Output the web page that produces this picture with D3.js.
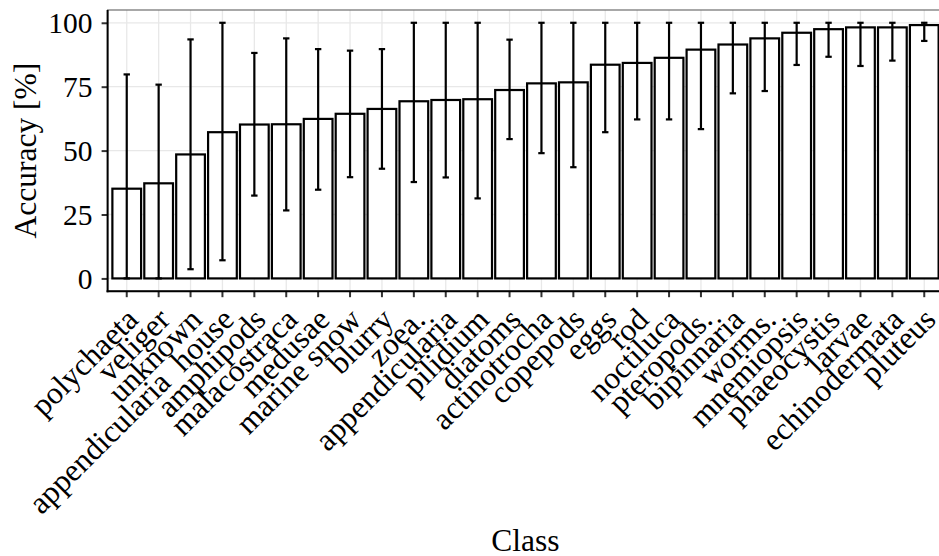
<!DOCTYPE html>
<html>
<head>
<meta charset="utf-8">
<script src="https://cdn.jsdelivr.net/npm/d3@7"></script>
<style>
  html, body { margin: 0; padding: 0; background: #fff; }
  svg { display: block; }
  text { font-family: "Liberation Serif", "Times New Roman", serif; fill: #000; white-space: pre; }
</style>
</head>
<body>
<svg id="chart" width="939" height="556"></svg>
<script>
// Per-class accuracy (mean) with lower / upper bounds of the error bar, in percent
const classes = [
  "polychaeta", "veliger", "unknown", "appendicularia_house", "amphipods",
  "malacostraca", "medusae", "marine snow", "blurry", "zoea.",
  "appendicularia", "pilidium", "diatoms", "actinotrocha", "copepods",
  "eggs", "rod", "noctiluca", "pteropods.", "bipinnaria",
  "worms.", "mnemiopsis", "phaeocystis", "larvae", "echinodermata", "pluteus"
];
const classLabels = [
  "polychaeta", "veliger", "unknown", "appendicularia  house", "amphipods",
  "malacostraca", "medusae", "marine snow", "blurry", "zoea.",
  "appendicularia", "pilidium", "diatoms", "actinotrocha", "copepods",
  "eggs", "rod", "noctiluca", "pteropods.", "bipinnaria",
  "worms.", "mnemiopsis", "phaeocystis", "larvae", "echinodermata", "pluteus"
];
const accuracy = [
  35.1, 37.2, 48.5, 57.2, 60.2, 60.3, 62.4, 64.4, 66.3, 69.3,
  69.8, 70.1, 73.7, 76.3, 76.7, 83.6, 84.3, 86.3, 89.5, 91.5,
  93.9, 96.1, 97.5, 98.2, 98.2, 99.1
];
const lower = [
  0, 0, 3.6, 7.1, 32.4, 26.6, 34.7, 39.6, 42.9, 37.7,
  39.5, 31.3, 54.5, 49.0, 43.5, 57.2, 62.2, 62.2, 58.4, 72.4,
  73.3, 83.5, 86.7, 83.1, 85.2, 92.9
];
const upper = [
  79.8, 75.8, 93.5, 100, 88.2, 93.9, 89.7, 89.1, 89.7, 100,
  100, 100, 93.4, 100, 100, 100, 100, 100, 100, 100,
  100, 100, 100, 100, 100, 100
];
const yTicks = [0, 25, 50, 75, 100];

const data = classes.map((c, i) => ({
  key: c, label: classLabels[i], value: accuracy[i], lo: lower[i], hi: upper[i]
}));

const svg = d3.select("#chart");

// Panel extent (the right edge runs slightly past the canvas)
const panel = { left: 107.6, right: 943.4, top: 10, bottom: 291.2 };

const x = d3.scaleBand()
  .domain(classes)
  .range([panel.left, panel.right])
  .paddingInner(0.1)
  .paddingOuter(0.15);

const y = d3.scaleLinear()
  .domain([-5, 105])
  .range([panel.bottom, panel.top]);

const cx = k => x(k) + x.bandwidth() / 2;

// Panel background
svg.append("rect")
  .attr("x", panel.left).attr("y", panel.top)
  .attr("width", panel.right - panel.left)
  .attr("height", panel.bottom - panel.top)
  .attr("fill", "#fff");

// Grid lines
const grid = svg.append("g").attr("stroke", "#e8e8e8").attr("stroke-width", 1.3);
grid.selectAll("line.h").data(yTicks).join("line")
  .attr("class", "h")
  .attr("x1", panel.left).attr("x2", panel.right)
  .attr("y1", d => y(d)).attr("y2", d => y(d));
grid.selectAll("line.v").data(classes).join("line")
  .attr("class", "v")
  .attr("x1", d => cx(d)).attr("x2", d => cx(d))
  .attr("y1", panel.top).attr("y2", panel.bottom);

// Bars
svg.append("g").selectAll("rect").data(data).join("rect")
  .attr("x", d => x(d.key))
  .attr("width", x.bandwidth())
  .attr("y", d => y(d.value))
  .attr("height", d => y(0) - y(d.value))
  .attr("fill", "#fff")
  .attr("stroke", "#000")
  .attr("stroke-width", 2.2);

// Error bars
const capHalf = x.step() * 0.1;
const eb = svg.append("g").attr("stroke", "#000").attr("stroke-width", 2.2);
eb.selectAll("line.stem").data(data).join("line")
  .attr("class", "stem")
  .attr("x1", d => cx(d.key)).attr("x2", d => cx(d.key))
  .attr("y1", d => y(d.lo)).attr("y2", d => y(d.hi));
eb.selectAll("line.top").data(data).join("line")
  .attr("class", "top")
  .attr("x1", d => cx(d.key) - capHalf).attr("x2", d => cx(d.key) + capHalf)
  .attr("y1", d => y(d.hi)).attr("y2", d => y(d.hi));
eb.selectAll("line.bot").data(data).join("line")
  .attr("class", "bot")
  .attr("x1", d => cx(d.key) - capHalf).attr("x2", d => cx(d.key) + capHalf)
  .attr("y1", d => y(d.lo)).attr("y2", d => y(d.lo));

// Panel border
svg.append("rect")
  .attr("x", panel.left).attr("y", panel.top)
  .attr("width", panel.right - panel.left)
  .attr("height", panel.bottom - panel.top)
  .attr("fill", "none")
  .attr("stroke", "#6e6e6e")
  .attr("stroke-width", 1.2);

// Y axis
const yAxis = svg.append("g")
  .attr("transform", `translate(${panel.left},0)`)
  .call(d3.axisLeft(y).tickValues(yTicks).tickSize(6).tickPadding(9).tickFormat(d3.format("d")));
yAxis.select(".domain").remove();
yAxis.selectAll(".tick line").attr("stroke", "#333").attr("stroke-width", 2);
yAxis.selectAll(".tick text")
  .style("font-size", "29.5px")
  .attr("dy", "0.34em");
svg.append("line")
  .attr("x1", panel.left).attr("x2", panel.left)
  .attr("y1", panel.top).attr("y2", panel.bottom + 1)
  .attr("stroke", "#000").attr("stroke-width", 2);

// X axis
const xAxis = svg.append("g")
  .attr("transform", `translate(0,${panel.bottom})`)
  .call(d3.axisBottom(x).tickSize(6).tickFormat((d, i) => classLabels[i]));
xAxis.select(".domain").remove();
xAxis.selectAll(".tick line").attr("stroke", "#333").attr("stroke-width", 2);
xAxis.selectAll(".tick text")
  .style("font-size", "31.5px")
  .attr("text-anchor", "end")
  .attr("x", 0).attr("y", 0)
  .attr("dy", "0.5em")
  .attr("transform", "translate(2,19) rotate(-45)");
svg.append("line")
  .attr("x1", panel.left - 1).attr("x2", panel.right)
  .attr("y1", panel.bottom).attr("y2", panel.bottom)
  .attr("stroke", "#000").attr("stroke-width", 2);

// Axis titles
svg.append("text")
  .attr("transform", `translate(35.5,${(panel.top + panel.bottom) / 2}) rotate(-90)`)
  .attr("text-anchor", "middle")
  .style("font-size", "31.5px")
  .text("Accuracy [%]");
svg.append("text")
  .attr("x", (panel.left + panel.right) / 2)
  .attr("y", 551)
  .attr("text-anchor", "middle")
  .style("font-size", "31.5px")
  .text("Class");
</script>
</body>
</html>
